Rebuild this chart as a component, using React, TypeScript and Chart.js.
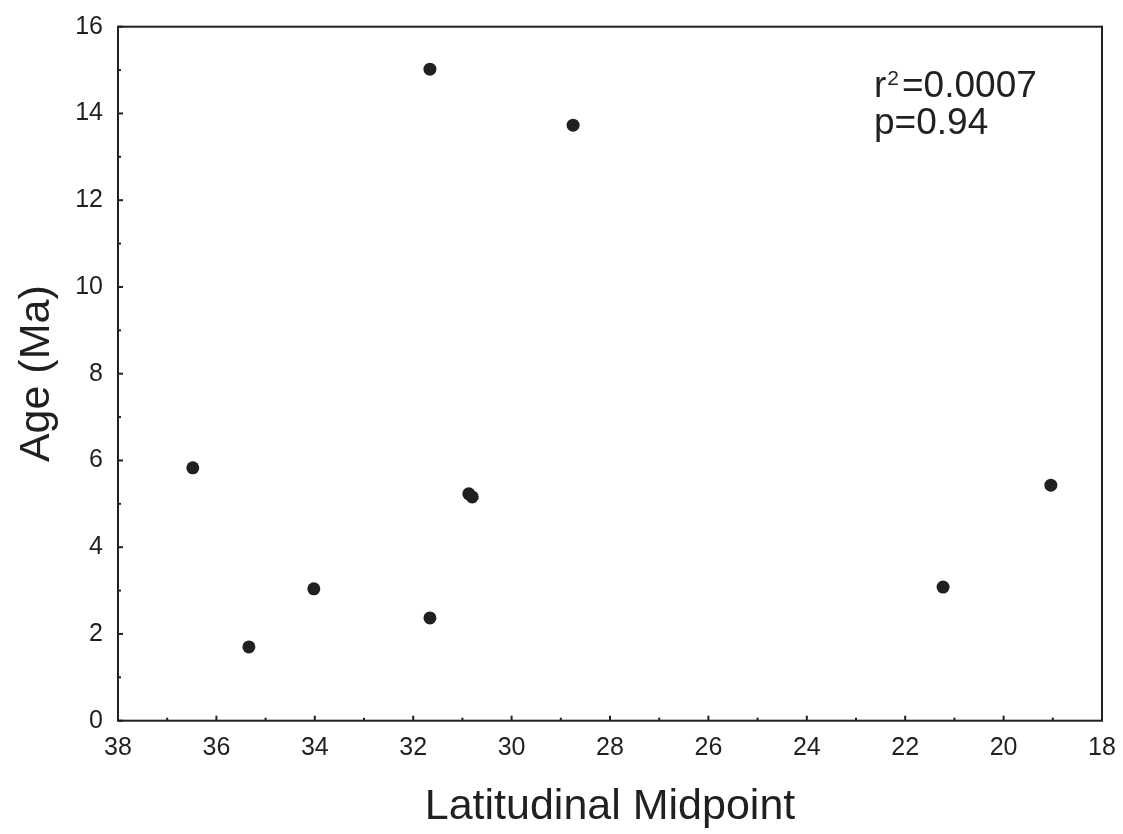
import React, { useEffect, useRef } from "react";
import { Chart, registerables } from "chart.js";

Chart.register(...registerables);

// Data
const latitude = [36.48, 35.34, 34.02, 31.66, 31.66, 30.87, 30.8, 28.75, 21.23, 19.04];
const age = [5.83, 1.7, 3.04, 15.02, 2.37, 5.23, 5.16, 13.73, 3.08, 5.43];

const xMin = 18;
const xMax = 38;
const yMin = 0;
const yMax = 16;
const xMajorStep = 2;
const yMajorStep = 2;
const minorStep = 1;

const xTitle = "Latitudinal Midpoint";
const yTitle = "Age (Ma)";
const statBase = "r";
const statSup = "2";
const statRest = "=0.0007";
const statLine2 = "p=0.94";
const statAnchor = [22.634, 14.386]; // x (latitude), y (age) of the text baseline start

const INK = "#231f20";
const FONT = "'Liberation Sans', Arial, Helvetica, sans-serif";

const framePlugin = {
  id: "frameAndTicks",
  afterDatasetsDraw(chart: any) {
    const { ctx, chartArea } = chart;
    const xs = chart.scales.x;
    const ys = chart.scales.y;
    ctx.save();
    ctx.strokeStyle = INK;
    ctx.lineWidth = 2;
    ctx.strokeRect(chartArea.left, chartArea.top, chartArea.right - chartArea.left, chartArea.bottom - chartArea.top);
    for (let v = xMin; v <= xMax; v += minorStep) {
      const px = xs.getPixelForValue(v);
      const len = v % xMajorStep === 0 ? 5 : 3;
      ctx.beginPath();
      ctx.moveTo(px, chartArea.bottom);
      ctx.lineTo(px, chartArea.bottom - len);
      ctx.stroke();
    }
    for (let v = yMin; v <= yMax; v += minorStep) {
      const py = ys.getPixelForValue(v);
      const len = v % yMajorStep === 0 ? 5 : 3;
      ctx.beginPath();
      ctx.moveTo(chartArea.left, py);
      ctx.lineTo(chartArea.left + len, py);
      ctx.stroke();
    }
    // statistics annotation
    const x0 = xs.getPixelForValue(statAnchor[0]);
    const y0 = ys.getPixelForValue(statAnchor[1]);
    ctx.fillStyle = INK;
    ctx.textBaseline = "alphabetic";
    ctx.textAlign = "left";
    ctx.font = `37px ${FONT}`;
    ctx.fillText(statBase, x0, y0);
    const rW = ctx.measureText(statBase).width;
    ctx.font = `21px ${FONT}`;
    ctx.fillText(statSup, x0 + rW + 1, y0 - 12);
    const sW = ctx.measureText(statSup).width;
    ctx.font = `37px ${FONT}`;
    ctx.fillText(statRest, x0 + rW + sW + 4, y0);
    ctx.fillText(statLine2, x0, y0 + 37);
    ctx.restore();
  },
};

function zeroPadding(scale: any) {
  scale.paddingTop = 0;
  scale.paddingBottom = 0;
  scale.paddingLeft = 0;
  scale.paddingRight = 0;
}

export default function App() {
  const ref = useRef<HTMLCanvasElement | null>(null);

  useEffect(() => {
    document.body.style.margin = "0";
    const canvas = ref.current;
    if (!canvas) return;
    const points = latitude.map((x, i) => ({ x, y: age[i] }));
    const chart = new Chart(canvas, {
      type: "scatter",
      data: {
        datasets: [
          {
            data: points,
            backgroundColor: INK,
            borderColor: INK,
            pointRadius: 6.5,
            pointHoverRadius: 6.5,
            borderWidth: 0,
          },
        ],
      },
      options: {
        responsive: false,
        animation: false,
        devicePixelRatio: 1,
        events: [],
        layout: { padding: { top: 26.7, right: 21, left: 0, bottom: 0 } },
        plugins: {
          legend: { display: false },
          tooltip: { enabled: false },
        },
        scales: {
          x: {
            type: "linear",
            min: xMin,
            max: xMax,
            reverse: true,
            grid: { display: false, drawTicks: false },
            border: { display: false },
            ticks: {
              stepSize: xMajorStep,
              color: INK,
              padding: 12,
              font: { family: FONT, size: 25 },
              maxRotation: 0,
            },
            title: {
              display: true,
              text: xTitle,
              color: INK,
              font: { family: FONT, size: 43 },
              padding: { top: 0, bottom: 1 },
            },
            afterFit(scale: any) {
              scale.height = 113.3;
              zeroPadding(scale);
            },
          },
          y: {
            type: "linear",
            min: yMin,
            max: yMax,
            grid: { display: false, drawTicks: false },
            border: { display: false },
            ticks: {
              stepSize: yMajorStep,
              color: INK,
              padding: 15,
              font: { family: FONT, size: 25 },
            },
            title: {
              display: true,
              text: yTitle,
              color: INK,
              font: { family: FONT, size: 43 },
              padding: { top: 11, bottom: 0 },
            },
            afterFit(scale: any) {
              scale.width = 118;
              zeroPadding(scale);
            },
          },
        },
      },
      plugins: [framePlugin],
    });
    return () => chart.destroy();
  }, []);

  return (
    <div style={{ position: "fixed", left: 0, top: 0, width: 1123, height: 834, background: "#fff" }}>
      <canvas ref={ref} width={1123} height={834} style={{ display: "block" }} />
    </div>
  );
}
